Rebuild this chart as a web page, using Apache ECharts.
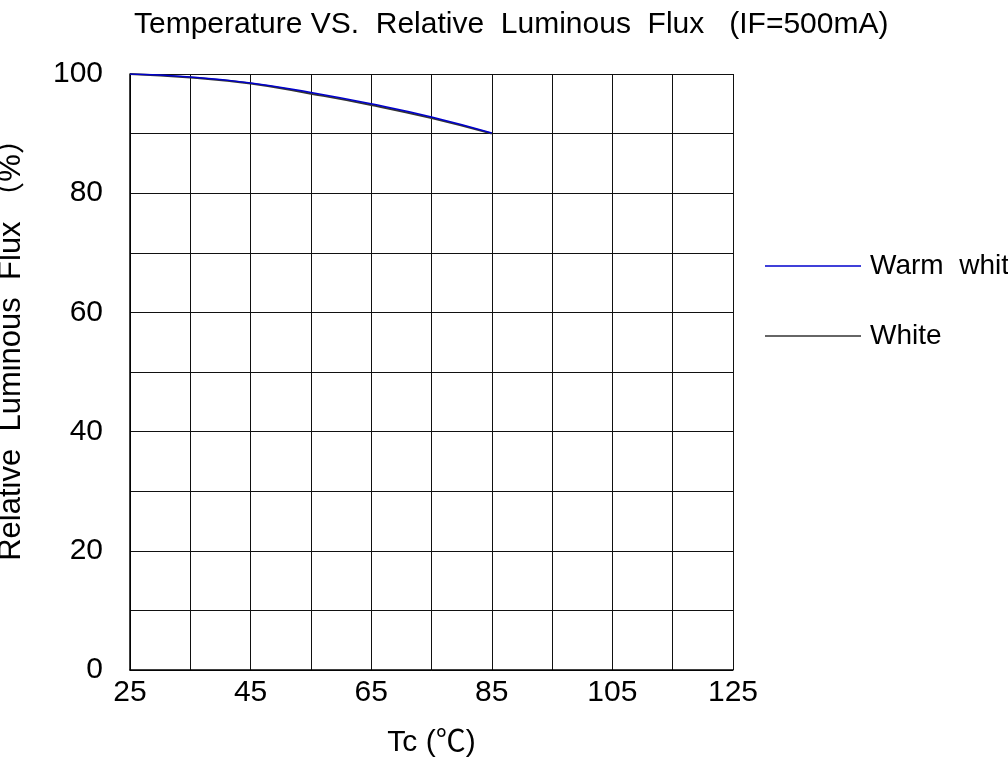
<!DOCTYPE html>
<html>
<head>
<meta charset="utf-8">
<script src="https://cdn.jsdelivr.net/npm/echarts@6/dist/echarts.min.js"></script>
<style>
	html, body { margin: 0; padding: 0; background: #fff; }
	#chart { width: 1008px; height: 765px; }
</style>
</head>
<body>
<div id="chart"></div>
<script>
var tempCategories = [ '25', '35', '45', '55', '65', '75', '85', '95', '105', '115', '125' ];
var warmWhiteFlux = [ 100, 99.5, 98.5, 96.9, 95.0, 92.8, 90.1 ];
var whiteFlux = [ 100, 99.4, 98.4, 96.7, 94.8, 92.6, 90.0 ];
var yTicks = [ 0, 20, 40, 60, 80, 100 ];

var fontFamily = 'Liberation Sans, Arial, Noto Sans CJK SC, sans-serif';

function flux() {
	var myChart = echarts.init(document.getElementById('chart'), null, { renderer : 'canvas' });
	option = {
		backgroundColor : '#fff',
		animation : false,
		title : {
			text : 'Temperature VS.  Relative  Luminous  Flux   (IF=500mA)',
			left : 134,
			top : 10,
			padding : 0,
			textStyle : {
				fontFamily : fontFamily,
				fontSize : 30,
				fontWeight : 'normal',
				color : '#000'
			}
		},
		legend : {
			orient : 'vertical',
			left : 765,
			top : 250,
			padding : 0,
			itemWidth : 96,
			itemHeight : 1.5,
			itemGap : 38,
			icon : 'rect',
			data : [ 'Warm white', 'White' ],
			formatter : function(name) {
				return name.replace(' ', '  ');
			},
			textStyle : {
				fontFamily : fontFamily,
				fontSize : 28,
				color : '#000',
				padding : [ 0, 0, 0, 4 ],
				lineHeight : 32
			}
		},
		grid : {
			left : 130,
			right : 275,
			top : 74,
			bottom : 95,
			containLabel : false,
			outerBoundsMode : 'none'
		},
		xAxis : [ {
			type : 'category',
			boundaryGap : false,
			data : tempCategories,
			name : 'Tc (℃)',
			nameLocation : 'middle',
			nameGap : 58,
			nameTextStyle : {
				fontFamily : fontFamily,
				fontSize : 30,
				color : '#000'
			},
			axisLine : {
				lineStyle : { color : '#000', width : 1.5 }
			},
			axisTick : { show : false },
			axisLabel : {
				interval : 1,
				margin : 8,
				fontFamily : fontFamily,
				fontSize : 30,
				color : '#000'
			},
			splitLine : {
				show : true,
				interval : 0,
				lineStyle : { color : '#111', width : 1 }
			}
		} ],
		yAxis : [ {
			type : 'value',
			min : 0,
			max : 100,
			interval : 10,
			name : 'Relative  Luminous  Flux （%）',
			nameLocation : 'middle',
			nameGap : 103,
			nameTextStyle : {
				fontFamily : fontFamily,
				fontSize : 31,
				color : '#000',
				padding : [ 0, 0, 0, 60 ]
			},
			axisLine : {
				show : true,
				lineStyle : { color : '#000', width : 1.5 }
			},
			axisTick : { show : false },
			axisLabel : {
				margin : 27,
				fontFamily : fontFamily,
				fontSize : 30,
				color : '#000',
				formatter : function(v) {
					return yTicks.indexOf(v) >= 0 ? String(v) : '';
				}
			},
			splitLine : {
				show : true,
				lineStyle : { color : '#111', width : 1 }
			}
		} ],
		series : [ {
			name : 'White',
			type : 'line',
			smooth : true,
			showSymbol : false,
			color : '#333',
			lineStyle : { color : '#333', width : 2 },
			data : whiteFlux,
			z : 3
		}, {
			name : 'Warm white',
			type : 'line',
			smooth : true,
			showSymbol : false,
			color : '#0000cc',
			lineStyle : { color : '#0000cc', width : 1.5 },
			data : warmWhiteFlux,
			z : 4
		} ]
	};
	myChart.setOption(option);
}
flux();
</script>
</body>
</html>
